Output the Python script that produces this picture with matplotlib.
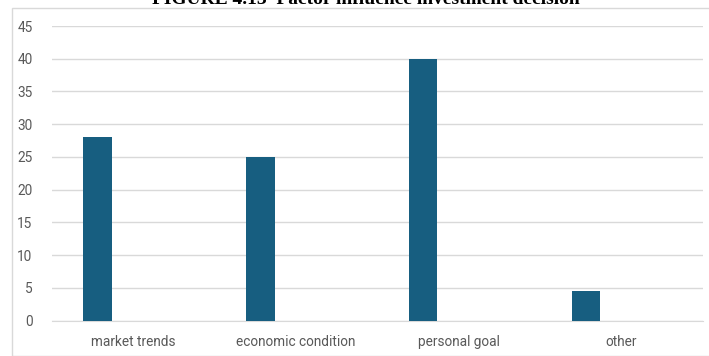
import numpy as np
import matplotlib
matplotlib.use('Agg')
import matplotlib.pyplot as plt
from matplotlib.patches import Rectangle

categories = ['market trends', 'economic condition', 'personal goal', 'other']
values = [28, 25, 40, 4.5]
yticks = [0, 5, 10, 15, 20, 25, 30, 35, 40, 45]

fig = plt.figure(figsize=(7.09, 3.56), dpi=100)
ax = fig.add_axes([52/709, 1 - 320.7/356, (703 - 52)/709, (320.7 - 26)/356])

# chart frame (light gray box, cut by the image edges)
fig.patches.append(Rectangle((12/709, 0), 1, 1 - 8/356, transform=fig.transFigure,
                             fill=False, edgecolor='#d9d9d9', linewidth=1))

x = np.arange(len(categories))
# second series in the source is empty, so bars sit left of each category centre
ax.bar(x - 0.22, values, width=0.175, color='#175e80', zorder=3)

ax.set_xlim(-0.5, len(categories) - 0.5)
ax.set_ylim(0, 45)
ax.set_yticks(yticks)
ax.set_xticks(x)
ax.set_xticklabels(categories)
ax.grid(axis='y', color='#d9d9d9', linewidth=1, zorder=0)
for s in ['top', 'right', 'left']:
    ax.spines[s].set_visible(False)
ax.spines['bottom'].set_color('#d9d9d9')
ax.tick_params(length=0, labelsize=9.8, labelcolor='#595959', pad=10)
ax.tick_params(axis='y', pad=14)
for lbl in ax.get_xticklabels() + ax.get_yticklabels():
    lbl.set_family('Roboto')

# title is partly cut off by the top edge, as in the source image
fig.text(366/709, 1 - 4/356, 'FIGURE 4.13  Factor influence investment decision',
         ha='center', va='baseline', family='Liberation Serif', weight='bold', fontsize=14)

fig.savefig('out.png', dpi=100)
